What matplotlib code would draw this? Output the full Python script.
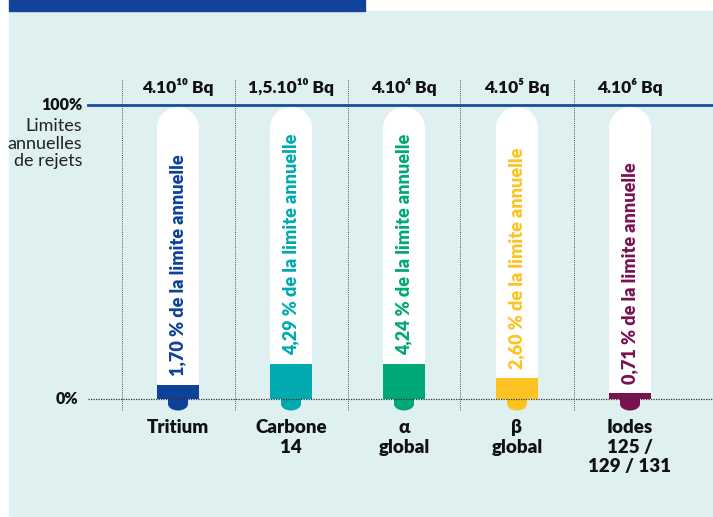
import numpy as np
import matplotlib.pyplot as plt
from matplotlib.patches import Ellipse, Rectangle

plt.rcParams['font.family'] = ['Lato', 'DejaVu Sans']

# data
categories = ['Tritium', 'Carbone\n14', 'α\nglobal', 'β\nglobal', 'Iodes\n125 /\n129 / 131']
limits = ['4.10¹⁰ Bq', '1,5.10¹⁰ Bq', '4.10⁴ Bq', '4.10⁵ Bq', '4.10⁶ Bq']
values = [1.70, 4.29, 4.24, 2.60, 0.71]
colors = ['#0d4299', '#00aaae', '#00a877', '#fdc321', '#7a1250']

bg = '#def0f0'
scale = 2.8  # visual exaggeration of the fill level

fig = plt.figure(figsize=(7.13, 5.17), dpi=100)
W, H = 713, 517

# background panel and banner
fig.patches.append(Rectangle((9 / W, 0), 1 - 9 / W, 1 - 11 / H, transform=fig.transFigure,
                             color=bg, zorder=-2))
fig.patches.append(Rectangle((9 / W, 1 - 11 / H), (365 - 9) / W, 11 / H, transform=fig.transFigure,
                             color='#12449a', zorder=-2))

# axes: x index -> pixel 178 + 113*i, y 0..100 -> pixel 399..105
px_y0, px_y100 = 399, 105
ax = fig.add_axes([88 / W, 1 - px_y0 / H, (713 - 88) / W, (px_y0 - px_y100) / H])
ax.set_xlim((88 - 178) / 113, (713 - 178) / 113)
ax.set_ylim(0, 100)
ax.axis('off')

ypx = (px_y0 - px_y100) / 100.0  # pixels per unit
xpx = 113.0

tube_w = 42 / xpx
tube_top = (px_y0 - 107) / ypx
rad_y = 21 / ypx

x = np.arange(len(categories))
for i in x:
    # white tube
    ax.add_patch(Rectangle((i - tube_w / 2, 0), tube_w, tube_top - rad_y, color='white', lw=0, zorder=2))
    ax.add_patch(Ellipse((i, tube_top - rad_y), tube_w, 2 * rad_y, color='white', lw=0, zorder=2))

ax.bar(x, [v * scale for v in values], width=tube_w, color=colors, zorder=3)

# bulbs below 0 line
bw = 20 / xpx
for i in x:
    ax.add_patch(Rectangle((i - bw / 2, -5 / ypx), bw, 5 / ypx, color=colors[i], lw=0,
                           zorder=3, clip_on=False))
    ax.add_patch(Ellipse((i, -5 / ypx), bw, 13 / ypx, color=colors[i], lw=0,
                         zorder=3, clip_on=False))

# rotated labels inside tubes
for i in x:
    ax.text(i, values[i] * scale + 9 / ypx, f'{values[i]:.2f}'.replace('.', ',') + ' % de la limite annuelle',
            rotation=90, ha='center', va='bottom', color=colors[i], fontsize=13,
            fontweight='heavy', zorder=4)

# separators
for i in x:
    ax.plot([i - 0.5, i - 0.5], [-11 / ypx, (px_y0 - 79) / ypx], ls=(0, (1, 1.2)),
            color='#555555', lw=0.7, clip_on=False, zorder=1)

# 100% and 0% lines
ax.plot(ax.get_xlim(), [100, 100], color='#1a4c9c', lw=2, clip_on=False, zorder=5)
ax.plot(ax.get_xlim(), [0, 0], ls=(0, (1, 1)), color='#333333', lw=0.9, clip_on=False, zorder=5)

# limits on top
for i in x:
    ax.text(i, (px_y0 - 87) / ypx, limits[i], ha='center', va='center', fontsize=12.5,
            fontweight='heavy', color='#111111', clip_on=False)

# category labels
for i in x:
    ax.text(i, (px_y0 - 419) / ypx, categories[i], ha='center', va='top', fontsize=13.5,
            fontweight='heavy', color='#111111', linespacing=1.18, clip_on=False)

# left annotations
xl = (82 - 178) / xpx
ax.text(xl, 100, '100%', ha='right', va='center', fontsize=11.5, fontweight='heavy', color='#111111')
ax.text(xl, (px_y0 - 118) / ypx, 'Limites\nannuelles\nde rejets', ha='right', va='top',
        fontsize=13, color='#222222', linespacing=1.12)
ax.text((78 - 178) / xpx, 0, '0%', ha='right', va='center', fontsize=11.5, fontweight='heavy',
        color='#111111')

fig.savefig('out.png', dpi=100)
